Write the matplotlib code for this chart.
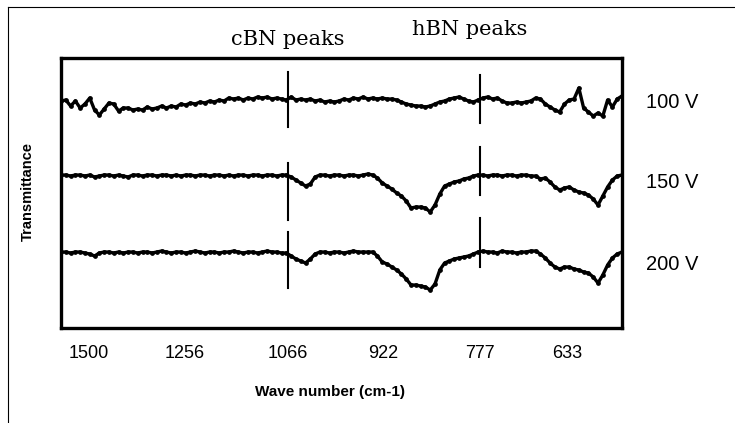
import numpy as np
import matplotlib
matplotlib.use("Agg")
import matplotlib.pyplot as plt
from matplotlib.lines import Line2D

# category axis: tick labels (wave number, cm-1) and their positions along the point index
tick_labels = ["1500", "1256", "1066", "922", "777", "633"]
tick_pos = [5.8, 25.8, 47.3, 67.1, 87.3, 105.6]

# peak marker positions (cBN at 1066, hBN at 777) and the vertical extent of each marker piece
cbn_pos = 47.3
hbn_pos = 87.3
cbn_spans = [(201, 256), (108, 165), (40, 96)]
hbn_spans = [(205, 253), (133, 181), (61, 110)]

# transmittance traces (arbitrary units, offset per bias voltage)
t_100v = [
    227, 228, 222, 227, 220, 224, 230, 218, 213, 219, 225, 224, 217, 220, 220, 218,
    219, 218, 221, 219, 220, 222, 220, 222, 221, 224, 223, 225, 224, 226, 225, 227,
    226, 228, 227, 230, 229, 230, 228, 230, 229, 231, 230, 231, 229, 230, 229, 228,
    231, 228, 229, 228, 229, 227, 228, 226, 227, 226, 227, 229, 228, 230, 229, 231,
    229, 230, 229, 230, 229, 229, 228, 226, 224, 223, 222, 222, 221, 222, 224, 226,
    227, 229, 230, 231, 229, 227, 226, 228, 230, 231, 229, 230, 227, 225, 225, 226,
    225, 226, 227, 230, 229, 224, 221, 218, 216, 224, 228, 229, 240, 220, 216, 212,
    215, 212, 228, 221, 229, 232,
]
t_150v = [
    153, 153, 152, 153, 153, 152, 153, 151, 152, 153, 153, 152, 153, 152, 151, 153,
    153, 152, 153, 153, 152, 153, 153, 152, 153, 152, 153, 153, 152, 153, 153, 152,
    153, 153, 152, 153, 152, 153, 153, 152, 153, 153, 152, 153, 153, 152, 153, 153,
    151, 148, 145, 142, 144, 151, 153, 153, 152, 153, 153, 152, 153, 153, 152, 153,
    154, 153, 150, 145, 142, 139, 135, 132, 127, 120, 121, 121, 120, 116, 123, 134,
    142, 144, 146, 147, 149, 150, 152, 153, 153, 152, 153, 153, 152, 153, 153, 152,
    153, 153, 152, 152, 149, 150, 146, 141, 138, 140, 141, 138, 136, 135, 133, 129,
    123, 132, 141, 148, 152, 153,
]
t_200v = [
    76, 76, 75, 76, 76, 75, 74, 72, 75, 76, 76, 75, 76, 75, 76, 76,
    75, 76, 76, 75, 76, 77, 76, 75, 76, 76, 75, 76, 77, 76, 75, 76,
    76, 75, 76, 76, 77, 76, 75, 76, 76, 75, 76, 77, 76, 76, 75, 75,
    72, 69, 67, 65, 69, 74, 76, 76, 75, 76, 76, 75, 76, 77, 76, 76,
    76, 76, 72, 66, 64, 61, 58, 54, 49, 43, 43, 42, 41, 38, 44, 58,
    65, 67, 69, 70, 71, 72, 74, 76, 77, 76, 76, 75, 77, 76, 76, 75,
    76, 76, 77, 77, 74, 70, 65, 61, 59, 61, 61, 59, 58, 56, 55, 51,
    45, 53, 63, 70, 74, 76,
]
series = [t_100v, t_150v, t_200v]
series_names = ["100 V", "150 V", "200 V"]
name_heights = [226, 145, 63]

W, H = 735, 423
fig = plt.figure(figsize=(W / 100, H / 100), dpi=100)
ax = fig.add_axes([61 / W, (H - 328) / H, 561 / W, 270 / H])

idx = np.arange(len(t_100v))
for vals in series:
    ax.plot(idx, vals, color="black", lw=2.4, marker="o", ms=2.4, zorder=3)
for name, h in zip(series_names, name_heights):
    ax.text(1.09, h, name, transform=ax.get_yaxis_transform(),
            ha="center", va="center", fontsize=14.5, family="Liberation Sans")

for lo, hi in cbn_spans:
    ax.plot([cbn_pos, cbn_pos], [lo, hi], color="black", lw=1.5, zorder=4)
for lo, hi in hbn_spans:
    ax.plot([hbn_pos, hbn_pos], [lo, hi], color="black", lw=1.5, zorder=4)

ax.set_xlim(0, len(t_100v) - 1)
ax.set_ylim(0, 270)
ax.set_yticks([])
ax.set_xticks(tick_pos)
ax.set_xticklabels(tick_labels, family="Liberation Sans", fontsize=13)
ax.tick_params(axis="x", length=0, pad=12)
for s in ax.spines.values():
    s.set_linewidth(2.4)

fig.text(330 / W, 1 - 392 / H, "Wave number (cm-1)", ha="center", va="center",
         fontsize=11, fontweight="bold", family="Liberation Sans")
fig.text(28 / W, 1 - 191 / H, "Transmittance", ha="center", va="center",
         rotation=90, fontsize=10.5, fontweight="bold", family="Liberation Sans")
fig.text(288 / W, 1 - 45 / H, "cBN peaks", ha="center", va="baseline",
         fontsize=15, family="DejaVu Serif")
fig.text(470 / W, 1 - 35 / H, "hBN peaks", ha="center", va="baseline",
         fontsize=15, family="DejaVu Serif")

# outer chart frame (left and top edges visible)
fig.add_artist(Line2D([8 / W, 8 / W], [0, 1 - 7 / H], color="black", lw=0.8))
fig.add_artist(Line2D([8 / W, 1], [1 - 7 / H, 1 - 7 / H], color="black", lw=0.8))

fig.savefig("out.png", dpi=100)
